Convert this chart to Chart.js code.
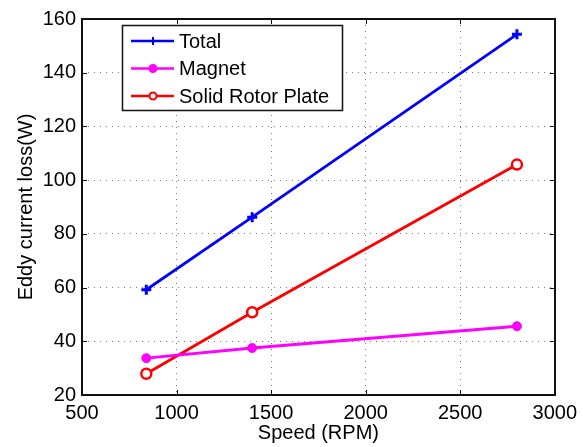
<!DOCTYPE html>
<html>
<head>
<meta charset="utf-8">
<script src="https://cdn.jsdelivr.net/npm/chart.js@4"></script>
<style>
  html, body { margin: 0; padding: 0; background: #fff; }
  #wrap { width: 583px; height: 447px; }
</style>
</head>
<body>
<div id="wrap"><canvas id="myChart" width="583" height="447"></canvas></div>
<script>
// speed points (RPM)
var speeds = [840, 1400, 2800];
var totalLoss = [59.2, 86.2, 154.3];
var magnetLoss = [33.7, 37.5, 45.6];
var plateLoss = [27.9, 50.8, 105.8];
var xTicks = [500, 1000, 1500, 2000, 2500, 3000];
var yTicks = [20, 40, 60, 80, 100, 120, 140, 160];

var FONT = "Liberation Sans, Arial, Helvetica, sans-serif";

function toXY(ys) {
  return speeds.map(function (s, i) { return { x: s, y: ys[i] }; });
}

// matlab style box, inward ticks and legend inside the axes
var matlabBox = {
  id: "matlabBox",
  afterDraw: function (chart) {
    var ctx = chart.ctx;
    var a = chart.chartArea;
    var xs = chart.scales.x, ys = chart.scales.y;
    ctx.save();
    ctx.strokeStyle = "#111";
    ctx.lineWidth = 1;
    ctx.setLineDash([]);
    ctx.beginPath();
    xTicks.forEach(function (v) {
      var px = Math.round(xs.getPixelForValue(v)) + 0.5;
      ctx.moveTo(px, a.bottom); ctx.lineTo(px, a.bottom - 5);
      ctx.moveTo(px, a.top); ctx.lineTo(px, a.top + 5);
    });
    yTicks.forEach(function (v) {
      var py = Math.round(ys.getPixelForValue(v)) + 0.5;
      ctx.moveTo(a.left, py); ctx.lineTo(a.left + 5, py);
      ctx.moveTo(a.right, py); ctx.lineTo(a.right - 5, py);
    });
    ctx.stroke();
    ctx.lineWidth = 2;
    ctx.strokeRect(Math.round(a.left), Math.round(a.top),
      Math.round(a.right - a.left), Math.round(a.bottom - a.top));

    // legend
    var lx = 122, ly = 25, lw = 220, lh = 85;
    ctx.fillStyle = "#fff";
    ctx.fillRect(lx, ly, lw, lh);
    ctx.lineWidth = 1.5;
    ctx.strokeRect(lx + 0.5, ly + 0.5, lw, lh);
    ctx.font = "20px " + FONT;
    ctx.textBaseline = "middle";
    chart.data.datasets.forEach(function (ds, i) {
      var y = ly + 16 + i * 27.5;
      ctx.strokeStyle = ds.borderColor;
      ctx.lineWidth = 2.5;
      ctx.beginPath();
      ctx.moveTo(lx + 9, y); ctx.lineTo(lx + 52, y);
      ctx.stroke();
      var mx = lx + 31;
      if (ds.pointStyle === "cross") {
        ctx.lineWidth = 2;
        ctx.beginPath();
        ctx.moveTo(mx - 4, y); ctx.lineTo(mx + 4, y);
        ctx.moveTo(mx, y - 4); ctx.lineTo(mx, y + 4);
        ctx.stroke();
      } else {
        ctx.beginPath();
        ctx.arc(mx, y, 3.5, 0, Math.PI * 2);
        ctx.fillStyle = ds.pointBackgroundColor;
        ctx.lineWidth = 2;
        ctx.fill();
        ctx.stroke();
      }
      ctx.fillStyle = "#000";
      ctx.fillText(ds.label, lx + 57, y + 1);
    });
    ctx.restore();
  }
};

var ctx = document.getElementById("myChart").getContext("2d");
var myChart = new Chart(ctx, {
  type: "line",
  data: {
    datasets: [
      {
        label: "Total",
        data: toXY(totalLoss),
        borderColor: "#0000ff",
        borderWidth: 2.8,
        pointStyle: "cross",
        pointRadius: 5,
        pointBorderWidth: 3,
        pointBackgroundColor: "#0000ff",
        pointBorderColor: "#0000ff",
        tension: 0,
      },
      {
        label: "Magnet",
        data: toXY(magnetLoss),
        borderColor: "#ff00ff",
        borderWidth: 2.8,
        pointStyle: "circle",
        pointRadius: 4.5,
        pointBorderWidth: 1,
        pointBackgroundColor: "#ff00ff",
        pointBorderColor: "#ff00ff",
        tension: 0,
      },
      {
        label: "Solid Rotor Plate",
        data: toXY(plateLoss),
        borderColor: "#ff0000",
        borderWidth: 2.8,
        pointStyle: "circle",
        pointRadius: 5,
        pointBorderWidth: 2.5,
        pointBackgroundColor: "#ffffff",
        pointBorderColor: "#ff0000",
        tension: 0,
      },
    ],
  },
  options: {
    responsive: false,
    animation: false,
    layout: { padding: { top: 19, right: 24, left: 0, bottom: 2 } },
    plugins: {
      legend: { display: false },
      tooltip: { enabled: false },
    },
    scales: {
      x: {
        type: "linear",
        min: 500,
        max: 3000,
        afterBuildTicks: function (scale) {
          scale.ticks = xTicks.map(function (v) { return { value: v }; });
        },
        afterFit: function (scale) { scale.height = 50; },
        grid: { color: "#777", lineWidth: 1, drawTicks: false },
        border: { display: false, dash: [1, 5] },
        ticks: {
          color: "#000",
          font: { family: FONT, size: 20 },
          padding: 6,
          maxRotation: 0,
          callback: function (v) { return String(v); },
        },
        title: {
          display: true,
          text: "Speed (RPM)",
          color: "#000",
          font: { family: FONT, size: 20 },
          padding: { top: 0, bottom: 0 },
        },
      },
      y: {
        min: 20,
        max: 160,
        afterBuildTicks: function (scale) {
          scale.ticks = yTicks.map(function (v) { return { value: v }; });
        },
        afterFit: function (scale) { scale.width = 82; },
        grid: { color: "#777", lineWidth: 1, drawTicks: false },
        border: { display: false, dash: [1, 5] },
        ticks: {
          color: "#000",
          font: { family: FONT, size: 20 },
          padding: 6,
          callback: function (v) { return String(v); },
        },
        title: {
          display: true,
          text: "Eddy current loss(W)",
          color: "#000",
          font: { family: FONT, size: 20 },
          padding: { top: 14, bottom: 0 },
        },
      },
    },
  },
  plugins: [matlabBox],
});
</script>
</body>
</html>
